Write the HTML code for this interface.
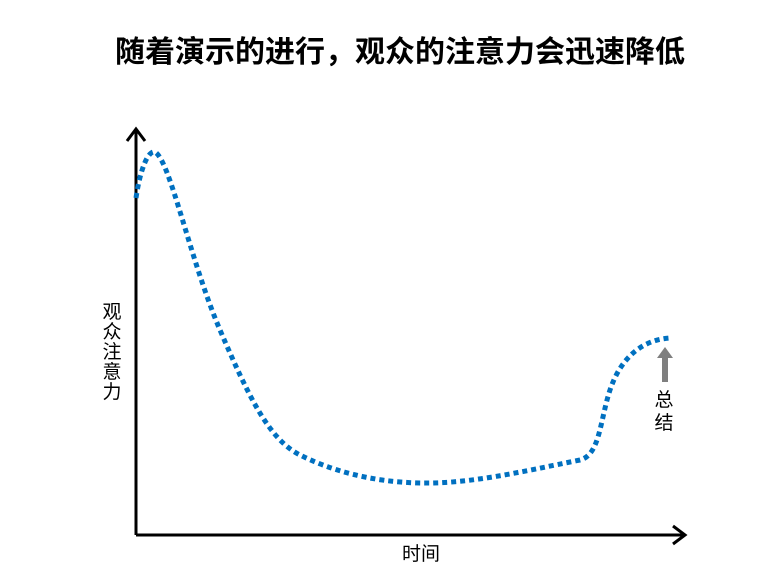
<!DOCTYPE html>
<html><head><meta charset="utf-8"><style>
body{margin:0;background:#fff;}
svg{display:block;}
text{font-family:"Liberation Sans","Noto Sans CJK SC",sans-serif;}
</style></head><body>
<svg width="770" height="578" viewBox="0 0 770 578" xmlns="http://www.w3.org/2000/svg">
<text x="400" y="62" text-anchor="middle" font-size="30" font-weight="bold" fill="#000" textLength="570" lengthAdjust="spacingAndGlyphs">随着演示的进行，观众的注意力会迅速降低</text>
<g stroke="#000" stroke-width="3" fill="none">
<line x1="136" y1="535" x2="136" y2="130"/>
<polyline points="127,141 136,129 145,141"/>
<line x1="136" y1="535" x2="684" y2="535"/>
<polyline points="673,526 685,535 673,544"/>
</g>
<path d="M136,198 C140,170 148,150 155,152 C170,160 190,260 220,330 C250,400 270,440 300,455 C330,470 370,482 420,483 C470,484 520,472 580,460 C600,455 600,420 610,390 C620,360 640,340 670,338" fill="none" stroke="#0070c0" stroke-width="5" stroke-dasharray="5 4"/>
<polygon points="665,347 673,358 668,358 668,382 662,382 662,358 657,358" fill="#7f7f7f"/>
<g font-size="19" fill="#000" text-anchor="middle">
<text x="664" y="406">总</text>
<text x="664" y="429">结</text>
<text x="112" y="318">观</text>
<text x="112" y="338">众</text>
<text x="112" y="358">注</text>
<text x="112" y="378">意</text>
<text x="112" y="398">力</text>
<text x="421" y="560">时间</text>
</g>
</svg>
</body></html>
